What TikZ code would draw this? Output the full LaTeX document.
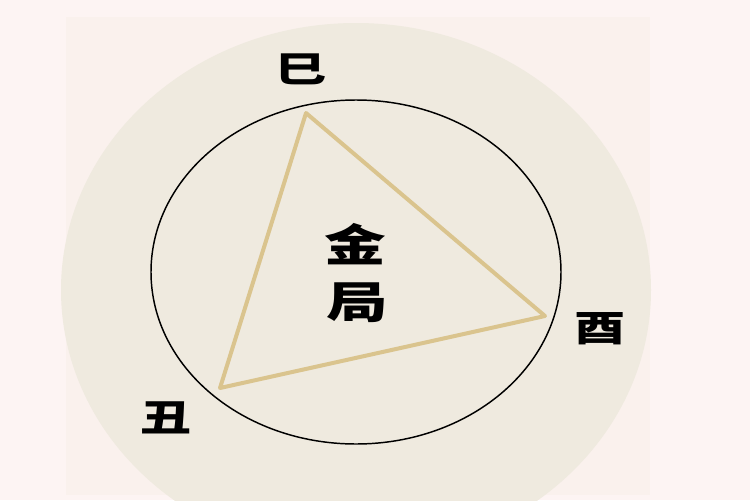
\documentclass[tikz,border=0pt]{standalone}
\usepackage{fontspec}
\newfontfamily\cjk{Noto Sans CJK SC}
\definecolor{bgpink}{HTML}{FDF4F3}
\definecolor{bgrect}{HTML}{FAF1ED}
\definecolor{beige}{HTML}{EFEADF}
\definecolor{gold}{HTML}{DAC48E}
\begin{document}
\begin{tikzpicture}[x=0.75pt,y=-0.75pt,
  branch/.style={font=\cjk\bfseries\fontsize{27}{27}\selectfont, inner sep=0pt},
  center/.style={font=\cjk\bfseries\fontsize{33}{33}\selectfont, inner sep=0pt},
  tri/.style={draw=gold, line width=3pt, line join=round}]
\useasboundingbox (0,0) rectangle (750,500);
\fill[bgpink] (0,0) rectangle (750,500);
\fill[bgrect] (66,17) rectangle (650,495);
\begin{scope}
\clip (0,0) rectangle (750,500);
\fill[beige] (356,290) ellipse [x radius=295, y radius=267];
\end{scope}
\draw[black, line width=1.1pt] (356,272) ellipse [x radius=205, y radius=172];
\coordinate (A) at (306,113);
\coordinate (B) at (545,316);
\coordinate (C) at (220,388);
\draw[tri] (A) -- (B) -- (C) -- cycle;
\node[branch] (si) at (301,69) {\scalebox{1.42}[1]{巳}};
\node[branch] (you) at (600,329) {\scalebox{1.42}[1]{酉}};
\node[branch] (chou) at (166,418) {\scalebox{1.42}[1]{丑}};
\node[center] (jin) at (355,244) {\scalebox{1.4}[1]{金}};
\node[center] (ju) at (357,303) {\scalebox{1.4}[1]{局}};
\end{tikzpicture}
\end{document}
